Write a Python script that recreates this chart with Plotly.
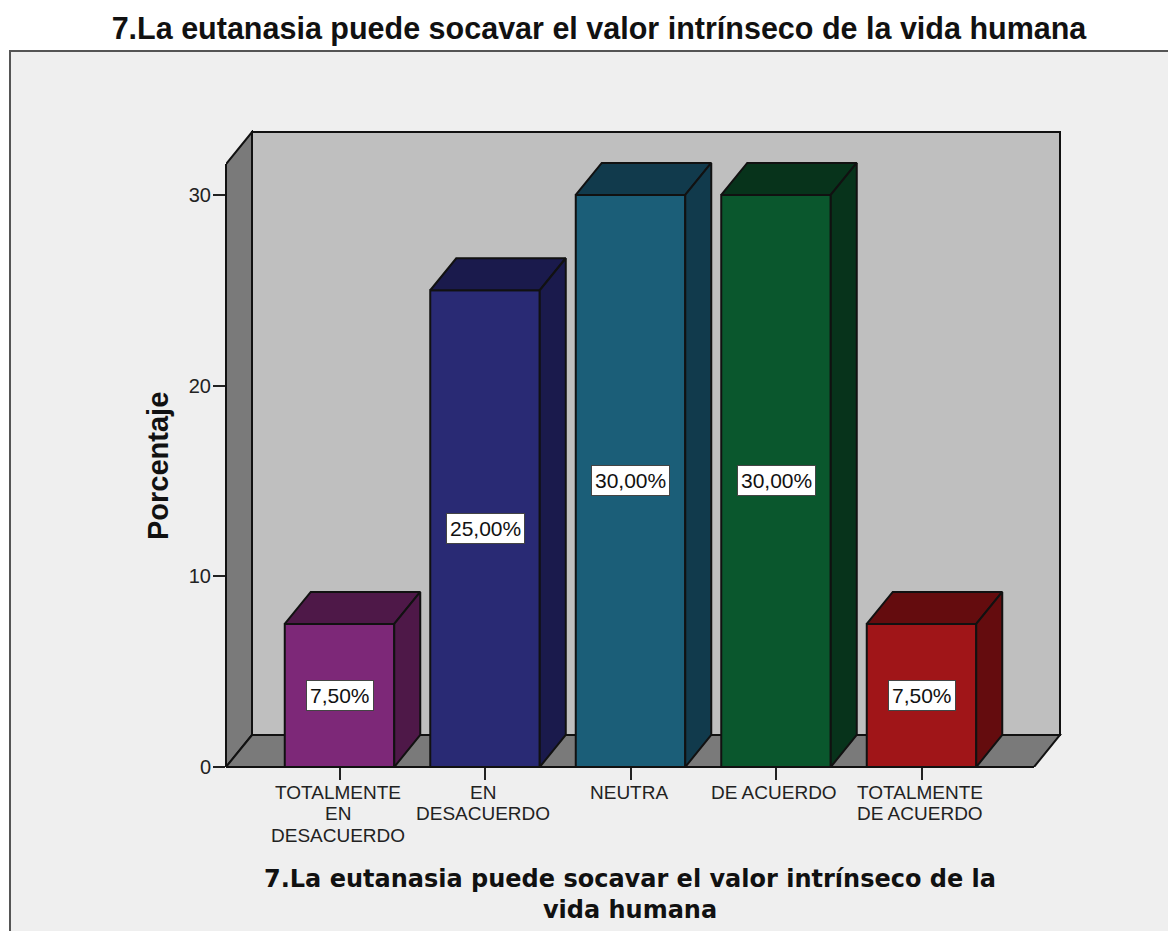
import plotly.graph_objects as go

categorias = ["TOTALMENTE<br>EN<br>DESACUERDO", "EN<br>DESACUERDO", "NEUTRA", "DE ACUERDO", "TOTALMENTE<br>DE ACUERDO"]
porcentajes = [7.5, 25.0, 30.0, 30.0, 7.5]
colores = ["#7D2878", "#292A74", "#1B5E78", "#0A572D", "#A01518"]
colores_osc = ["#4E1848", "#1A1A4C", "#113A4C", "#07331B", "#640C0E"]
ticks_y = [0, 10, 20, 30]
titulo = "7.La eutanasia puede socavar el valor intrínseco de la vida humana"
titulo_eje = "7.La eutanasia puede socavar el valor intrínseco de la<br>vida humana"

# Escala en pixeles del grafico original (la pagina deja 8 px de margen)
M = 8
L, R, T, B = 226 - M, 1062 - M, 130 - M, 767 - M
W, H = 1176 - M, 931 - M
PX_X = 145.5
PX_Y = 19.07
X0 = 339.5 - M
DX = 26 / PX_X  # profundidad del efecto 3D
DY = 32 / PX_Y
ANCHO = 109.5 / PX_X
BORDE = "#111111"
x_min = (L - X0) / PX_X
x_max = (R - X0) / PX_X
y_max = (B - T) / PX_Y
x_fin = x_min + (1060 - 226) / PX_X  # pared del fondo
y_fin = (767 - 132) / PX_Y
x = list(range(len(categorias)))

fig = go.Figure()

# Barras frontales
fig.add_trace(
    go.Bar(
        x=x,
        y=porcentajes,
        width=ANCHO,
        marker=dict(color=colores, line=dict(color=BORDE, width=2)),
        hoverinfo="skip",
    )
)

# Cara superior y lateral de cada barra
for xi, v, c in zip(x, porcentajes, colores_osc):
    izq, der = xi - ANCHO / 2, xi + ANCHO / 2
    fig.add_trace(
        go.Scatter(
            x=[izq, der, der + DX, izq + DX, izq],
            y=[v, v, v + DY, v + DY, v],
            mode="lines",
            fill="toself",
            fillcolor=c,
            line=dict(color=BORDE, width=2),
            hoverinfo="skip",
        )
    )
    fig.add_trace(
        go.Scatter(
            x=[der, der + DX, der + DX, der, der],
            y=[0, DY, v + DY, v, 0],
            mode="lines",
            fill="toself",
            fillcolor=c,
            line=dict(color=BORDE, width=2),
            hoverinfo="skip",
        )
    )


def poligono(puntos):
    return "M " + " L ".join(f"{a},{b}" for a, b in puntos) + " Z"


shapes = [
    # Fondo gris con el marco del grafico
    dict(
        type="rect", xref="paper", yref="paper", layer="below",
        x0=(10 - M - L) / (R - L), x1=(W + 20 - L) / (R - L),
        y0=-(H + 20 - B) / (B - T), y1=(B - (51 - M)) / (B - T),
        fillcolor="#EFEFEF", line=dict(color="#555555", width=2),
    ),
    # Pared del fondo
    dict(
        type="rect", layer="below", x0=x_min + DX, x1=x_fin, y0=DY, y1=y_fin,
        fillcolor="#BFBFBF", line=dict(color=BORDE, width=2),
    ),
    # Pared lateral
    dict(
        type="path", layer="below",
        path=poligono([(x_min, 0), (x_min + DX, DY), (x_min + DX, y_fin), (x_min, y_fin - DY)]),
        fillcolor="#7A7A7A", line=dict(color=BORDE, width=2),
    ),
    # Piso
    dict(
        type="path", layer="below",
        path=poligono([(x_min, 0), (x_fin - DX, 0), (x_fin, DY), (x_min + DX, DY)]),
        fillcolor="#7A7A7A", line=dict(color=BORDE, width=2),
    ),
    # Lineas de los ejes
    dict(
        type="line", xref="x", yref="paper", x0=x_min, x1=x_fin - DX, y0=0, y1=0,
        line=dict(color=BORDE, width=2),
    ),
    dict(
        type="line", xref="paper", yref="y", x0=0, x1=0, y0=0, y1=y_fin - DY,
        line=dict(color=BORDE, width=2),
    ),
]

# Etiquetas de valor
annotations = [
    dict(
        x=xi,
        y=v / 2,
        text=f"{v:.2f}%".replace(".", ","),
        showarrow=False,
        font=dict(family="Liberation Sans", size=21, color="#111111"),
        bgcolor="white",
        bordercolor="#444444",
        borderwidth=1,
        borderpad=3,
    )
    for xi, v in zip(x, porcentajes)
]

# Etiquetas del eje X, una anotacion por renglon para respetar el interlineado
for xi, cat in zip(x, categorias):
    for i, renglon in enumerate(cat.split("<br>")):
        annotations.append(
            dict(
                x=xi,
                y=0,
                xref="x",
                yref="paper",
                yanchor="middle",
                xshift=-2,
                yshift=-(25 + 21.5 * i),
                text=renglon,
                showarrow=False,
                font=dict(family="Liberation Sans", size=19, color="#222222"),
            )
        )

annotations.append(
    dict(
        x=(630 - M - L) / (R - L),
        y=-(894 - M - B) / (B - T),
        xref="paper",
        yref="paper",
        yanchor="middle",
        text=f"<b>{titulo_eje}</b>",
        showarrow=False,
        font=dict(family="DejaVu Sans", size=24, color="#111111"),
    )
)
annotations.append(
    dict(
        x=(158 - M - L) / (R - L),
        y=(B - (466 - M)) / (B - T),
        xref="paper",
        yref="paper",
        xanchor="center",
        yanchor="middle",
        text="<b>Porcentaje</b>",
        textangle=-90,
        showarrow=False,
        font=dict(family="Liberation Sans", size=29, color="#111111"),
    )
)

fig.update_layout(
    width=W,
    height=H,
    showlegend=False,
    autosize=False,
    paper_bgcolor="white",
    plot_bgcolor="rgba(0,0,0,0)",
    margin=dict(l=L, r=W - R, t=T, b=H - B, pad=0),
    title=dict(
        text=f"<b>{titulo}</b>",
        x=(599 - M) / W,
        xanchor="center",
        y=1 - (28 - M) / H,
        yanchor="middle",
        font=dict(family="Liberation Sans", size=30.5, color="#111111"),
    ),
    shapes=shapes,
    annotations=annotations,
)
fig.update_xaxes(
    range=[x_min, x_max],
    tickmode="array",
    tickvals=x,
    ticks="outside",
    ticklen=12,
    tickwidth=2,
    tickcolor="#222222",
    showticklabels=False,
    showgrid=False,
    zeroline=False,
    showline=False,
)
fig.update_yaxes(
    range=[0, y_max],
    tickmode="array",
    tickvals=ticks_y,
    ticks="outside",
    ticklen=12,
    tickwidth=2,
    tickcolor="#222222",
    ticklabelstandoff=-2,
    showgrid=False,
    zeroline=False,
    showline=False,
    tickfont=dict(family="Liberation Sans", size=20, color="#222222"),
)

fig.write_html("out.html")
